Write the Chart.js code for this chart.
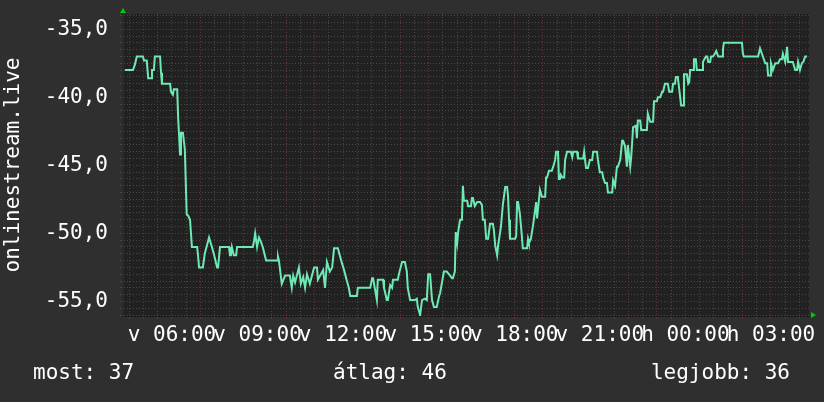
<!DOCTYPE html>
<html>
<head>
<meta charset="utf-8">
<script src="https://cdn.jsdelivr.net/npm/chart.js@4/dist/chart.umd.min.js"></script>
<style>
  html, body { margin: 0; padding: 0; background: #2f2f2f; }
  #wrap { width: 824px; height: 402px; }
</style>
</head>
<body>
<div id="wrap"><canvas id="graph" width="824" height="402"></canvas></div>
<script>
// minutes since Sunday 00:00 (values past 1440 are Monday)
const times = [261,278,282,286,299,301,307,310,316,318,322,324,335,337,339,356,358,362,364,371,373,377,379,383,387,391,394,398,402,413,415,417,425,429,438,440,444,448,455,457,461,480,482,484,486,490,495,497,530,533,535,539,543,547,551,558,581,583,585,591,598,608,612,615,619,627,631,636,640,644,650,659,665,667,678,682,686,692,697,701,709,716,722,728,732,735,749,751,777,781,783,787,791,793,804,806,812,814,819,823,825,835,838,844,850,854,856,861,871,875,877,882,886,892,896,899,903,907,911,917,922,924,932,938,945,949,951,955,957,960,962,966,970,972,974,981,983,989,991,993,997,1002,1008,1012,1014,1018,1021,1025,1029,1035,1037,1040,1044,1046,1052,1056,1061,1065,1067,1069,1071,1082,1084,1086,1088,1092,1096,1098,1107,1109,1111,1115,1120,1126,1128,1134,1138,1145,1147,1149,1153,1159,1162,1166,1168,1172,1174,1176,1178,1181,1185,1187,1191,1199,1202,1204,1212,1214,1225,1227,1229,1231,1235,1239,1244,1246,1254,1256,1260,1265,1267,1271,1275,1277,1286,1288,1292,1296,1298,1303,1307,1309,1313,1317,1319,1324,1326,1330,1336,1338,1340,1345,1347,1359,1361,1366,1372,1374,1380,1382,1387,1391,1393,1397,1403,1406,1412,1414,1418,1420,1424,1427,1431,1435,1437,1443,1446,1448,1450,1456,1458,1462,1464,1475,1477,1483,1486,1488,1492,1494,1498,1502,1505,1509,1517,1519,1521,1559,1561,1563,1593,1597,1603,1608,1612,1614,1618,1620,1624,1629,1635,1639,1643,1645,1650,1654,1656,1666,1671,1675,1677,1681,1685,1688,1692,1696];

const values = [
  -38.0,-38.0,-37.6,-37.0,-37.0,-37.3,-37.3,-38.6,-38.6,-38.0,-38.0,-37.0,-37.0,-38.2,-39.0,-39.0,-39.6,-39.8,-39.4,-39.4,
  -41.5,-44.2,-42.6,-42.6,-43.8,-48.6,-48.7,-49.0,-51.0,-51.0,-51.7,-52.5,-52.5,-51.5,-50.3,-50.3,-51.0,-51.5,-52.5,-52.5,
  -51.0,-51.0,-51.6,-51.6,-51.0,-51.6,-51.6,-51.0,-51.0,-50.5,-50.0,-51.0,-50.3,-50.6,-51.0,-52.0,-52.0,-51.7,-52.0,-53.7,
  -53.1,-53.1,-54.0,-53.1,-53.6,-52.5,-53.7,-53.2,-54.0,-53.0,-53.7,-52.5,-52.5,-53.4,-52.7,-54.0,-52.1,-52.8,-52.5,-51.1,
  -51.1,-52.0,-52.7,-53.5,-54.0,-54.6,-54.6,-54.0,-54.0,-53.3,-53.3,-54.1,-54.9,-53.4,-53.4,-54.0,-54.9,-54.9,-53.8,-54.0,
  -53.4,-53.4,-52.9,-52.1,-52.1,-52.8,-54.0,-54.9,-54.9,-54.8,-55.4,-56.0,-54.9,-54.8,-54.9,-53.0,-53.0,-54.9,-55.4,-55.4,
  -54.6,-54.4,-52.8,-52.8,-53.1,-53.3,-53.3,-52.8,-49.9,-50.7,-49.9,-49.0,-49.0,-46.5,-47.6,-47.6,-48.0,-48.0,-47.4,-47.4,
  -48.0,-47.7,-47.7,-47.9,-49.0,-49.0,-50.4,-50.4,-49.3,-49.3,-49.7,-50.9,-51.6,-50.9,-49.5,-47.9,-46.6,-46.6,-47.3,-49.0,
  -50.4,-50.4,-50.2,-47.7,-47.7,-48.6,-50.2,-51.1,-51.1,-50.4,-50.7,-50.4,-49.3,-47.7,-48.9,-46.8,-47.3,-47.3,-45.9,-45.9,
  -45.4,-45.4,-45.1,-44.6,-44.0,-44.0,-46.0,-46.0,-45.7,-45.9,-45.9,-44.6,-44.0,-44.0,-44.4,-44.0,-44.0,-44.5,-44.5,-44.0,
  -44.6,-45.2,-45.2,-44.6,-44.6,-44.0,-44.0,-44.6,-45.5,-45.5,-45.9,-46.3,-46.3,-47.0,-47.0,-46.1,-46.5,-45.1,-45.1,-44.6,
  -43.2,-43.2,-43.6,-45.1,-43.5,-45.1,-44.4,-42.2,-42.1,-43.0,-41.7,-41.7,-42.4,-42.4,-41.2,-41.8,-41.8,-40.3,-40.3,-40.0,
  -40.0,-39.6,-39.6,-39.0,-39.0,-39.6,-39.6,-39.0,-39.0,-38.5,-38.5,-39.4,-40.6,-40.6,-38.3,-38.3,-39.0,-38.9,-38.0,-38.0,
  -37.2,-37.2,-38.0,-38.0,-37.4,-37.0,-37.0,-37.4,-37.4,-37.0,-37.0,-36.8,-36.6,-37.0,-37.0,-36.5,-36.0,-36.0,-36.8,-37.0,
  -37.0,-36.4,-37.0,-37.5,-37.5,-38.4,-38.4,-37.5,-38.0,-37.5,-37.5,-37.2,-37.2,-36.8,-37.4,-36.3,-37.4,-37.4,-38.0,-38.0,
  -37.4,-38.0,-37.5,-37.4,-37.0,-37.0
];

const yTicks = [];            // grid every 0.5, labels every 5
for (let v = -56; v <= -34; v += 0.5) yTicks.push(v);
const xTicks = [];            // grid every 30 min, labels every 3 h
for (let t = 270; t <= 1680; t += 30) xTicks.push(t);

const dayLetters = ['v', 'h'];
const statLabels = ['most', 'átlag', 'legjobb'];
const statValues = [37, 46, 36];
const axisTitle = 'onlinestream.live';

const FONT = '"DejaVu Sans Mono", monospace';
const MINOR = '#484848';
const MAJOR = '#663434';

const decor = {
  id: 'decor',
  beforeDraw(chart) {
    const { ctx, chartArea: a } = chart;
    ctx.save();
    ctx.fillStyle = '#212121';
    ctx.fillRect(a.left, a.top, a.right - a.left, a.bottom - a.top);
    ctx.restore();
  },
  afterDraw(chart) {
    const { ctx, chartArea: a } = chart;
    ctx.save();
    // axis arrows
    ctx.fillStyle = '#00cc00';
    ctx.beginPath();
    ctx.moveTo(a.left - 3, a.top - 1);
    ctx.lineTo(a.left + 3, a.top - 1);
    ctx.lineTo(a.left, a.top - 6);
    ctx.fill();
    ctx.beginPath();
    ctx.moveTo(a.right + 2, a.bottom - 4);
    ctx.lineTo(a.right + 2, a.bottom + 2);
    ctx.lineTo(a.right + 7, a.bottom - 1);
    ctx.fill();
    // summary line
    ctx.fillStyle = '#ffffff';
    ctx.font = '21px ' + FONT;
    ctx.textBaseline = 'middle';
    const y = 374;
    ctx.textAlign = 'left';
    ctx.fillText(statLabels[0] + ': ' + statValues[0], 33, y);
    ctx.fillText(statLabels[1] + ': ' + statValues[1], 333, y);
    ctx.textAlign = 'right';
    ctx.fillText(statLabels[2] + ': ' + statValues[2], 790, y);
    ctx.restore();
  }
};

new Chart(document.getElementById('graph'), {
  type: 'line',
  data: {
    datasets: [{
      data: times.map((t, i) => ({ x: t, y: values[i] })),
      borderColor: '#6fe9b3',
      borderWidth: 2,
      pointRadius: 0,
      tension: 0,
      fill: false
    }]
  },
  options: {
    responsive: false,
    animation: false,
    events: [],
    layout: { padding: { left: 0, right: 15, top: 14, bottom: 56 } },
    plugins: { legend: { display: false }, tooltip: { enabled: false } },
    scales: {
      x: {
        type: 'linear',
        min: 257,
        max: 1700,
        afterBuildTicks: s => { s.ticks = xTicks.map(v => ({ value: v })); },
        afterFit: s => { s.height = 30; s.paddingLeft = 0; s.paddingRight = 0; },
        grid: {
          color: c => (c.tick && c.tick.value % 60 === 0) ? MAJOR : MINOR,
          tickColor: c => (c.tick && c.tick.value % 60 === 0) ? MAJOR : MINOR,
          tickLength: 3,
          lineWidth: 1
        },
        border: { display: true, color: '#1c1c1c', width: 1, dash: [1, 2] },
        ticks: {
          autoSkip: false,
          maxRotation: 0,
          padding: 4,
          color: '#ffffff',
          font: { family: FONT, size: 21 },
          callback: v => {
            if (v % 180 !== 0) return '';
            const day = dayLetters[v >= 1440 ? 1 : 0];
            const hh = String(Math.floor(v / 60) % 24).padStart(2, '0');
            return day + ' ' + hh + ':00';
          }
        }
      },
      y: {
        min: -56.07,
        max: -33.88,
        afterBuildTicks: s => { s.ticks = yTicks.map(v => ({ value: v })); },
        afterFit: s => { s.width = 123; s.paddingTop = 0; s.paddingBottom = 0; },
        grid: {
          color: c => (c.tick && c.tick.value % 5 === 0) ? MAJOR : MINOR,
          tickColor: c => (c.tick && c.tick.value % 5 === 0) ? MAJOR : MINOR,
          tickLength: 3,
          lineWidth: 1
        },
        border: { display: true, color: '#2a2a2a', width: 2, dash: [1, 2] },
        title: {
          display: true,
          text: axisTitle,
          color: '#ffffff',
          font: { family: FONT, size: 21 },
          padding: { top: 1, bottom: 0 }
        },
        ticks: {
          autoSkip: false,
          padding: 12,
          color: '#ffffff',
          font: { family: FONT, size: 21 },
          callback: v => (v % 5 === 0) ? v.toFixed(1).replace('.', ',') : ''
        }
      }
    }
  },
  plugins: [decor]
});
</script>
</body>
</html>
